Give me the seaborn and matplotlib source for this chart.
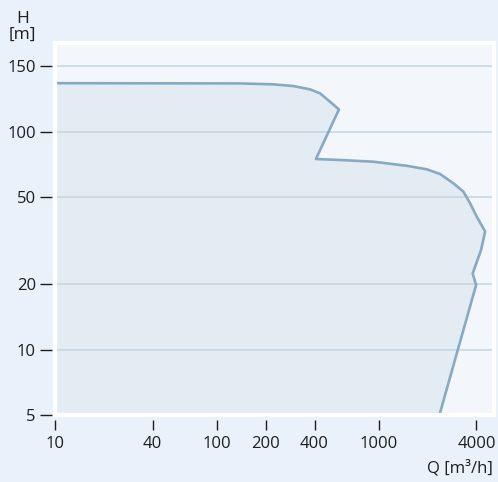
import numpy as np
import pandas as pd
import matplotlib
matplotlib.use("Agg")
import matplotlib.pyplot as plt
from matplotlib.patches import Rectangle
import seaborn as sns

# Data (Q in m3/h, H in m)
flow = [10, 139, 222, 296, 375, 433, 499, 566, 408, 575, 923, 1486, 1974,
        2388, 2884, 3327, 3656, 4018, 4530, 4275, 3795, 3981, 2360]
head = [137, 136.8, 136.1, 134.8, 132.3, 129.2, 122.8, 117, 75.0, 74.2, 72.9,
        69.8, 67.3, 64.0, 58.0, 53.1, 47.0, 40.8, 34.9, 28.7, 22.4, 19.8, 5]
x_ticks = [10, 40, 100, 200, 400, 1000, 4000]
y_ticks = [5, 10, 20, 50, 100, 150]
x_lim = (10, 5140)
y_lim = (5, 167.3)

df = pd.DataFrame({"Q": flow, "H": head})

fig_bg = "#e9f1fa"
ax_bg = "#f3f7fc"
fill_col = "#e4ecf3"
line_col = "#87a9c1"
grid_col = "#c3d4e0"
text_col = "#1e1e1e"

sns.set_theme(style="white")
plt.rcParams["font.family"] = ["Open Sans", "DejaVu Sans"]


# y axis: log up to 100, then 50 m per "octave" step as drawn in the chart
def fwd(y):
    y = np.asarray(y, dtype=float)
    lo = np.log10(np.clip(y, 1e-9, None))
    hi = 2 + (y - 100) / 50 * np.log10(2)
    return np.where(y <= 100, lo, hi)


def inv(v):
    v = np.asarray(v, dtype=float)
    lo = 10 ** np.clip(v, -9, 2)
    hi = 100 + (v - 2) / np.log10(2) * 50
    return np.where(v <= 2, lo, hi)


fig = plt.figure(figsize=(4.98, 4.82), dpi=100, facecolor=fig_bg)
ax = fig.add_axes([0.111, 0.138, 0.881, 0.772])
ax.set_facecolor(ax_bg)
ax.set_xscale("log")
ax.set_yscale("function", functions=(fwd, inv))
ax.set_xlim(*x_lim)
ax.set_ylim(*y_lim)

# filled working range
ax.fill(flow + [x_lim[0]], head + [y_lim[0]], color=fill_col, lw=0, zorder=1)
for y in y_ticks:
    ax.axhline(y, color=grid_col, lw=1.1, zorder=2)
sns.lineplot(data=df, x="Q", y="H", sort=False, estimator=None,
             color=line_col, lw=1.9, ax=ax, zorder=3)

ax.set_xticks(x_ticks)
ax.set_xticklabels([str(v) for v in x_ticks])
ax.set_yticks(y_ticks)
ax.set_yticklabels([str(v) for v in y_ticks])
ax.xaxis.set_minor_locator(matplotlib.ticker.NullLocator())
ax.yaxis.set_minor_locator(matplotlib.ticker.NullLocator())

for s in ax.spines.values():
    s.set_visible(False)
ax.spines["bottom"].set_position(("outward", 3.6))
ax.spines["left"].set_position(("outward", 2.6))
ax.tick_params(axis="x", bottom=True, length=7.2, width=1.0, color=text_col,
               labelsize=12, labelcolor=text_col, pad=4, direction="out")
ax.tick_params(axis="y", left=True, length=8.4, width=1.0, color=text_col,
               labelsize=12, labelcolor=text_col, pad=3, direction="out")
ax.set_xlabel("")
ax.set_ylabel("")

# white frame round the plot area
ax.add_patch(Rectangle((0, 0), 1, 1, transform=ax.transAxes, fill=False,
                       edgecolor="white", lw=3, clip_on=False, zorder=5))

fig.text(22.5 / 498, 1 - 27 / 482, "H\n[m]", ha="center", va="center",
         fontsize=12.5, color=text_col, linespacing=1.05)
fig.text(493 / 498, 1 - 468 / 482, "Q [m³/h]", ha="right", va="center",
         fontsize=12, color=text_col)

fig.savefig("out.png", dpi=100, facecolor=fig_bg)
